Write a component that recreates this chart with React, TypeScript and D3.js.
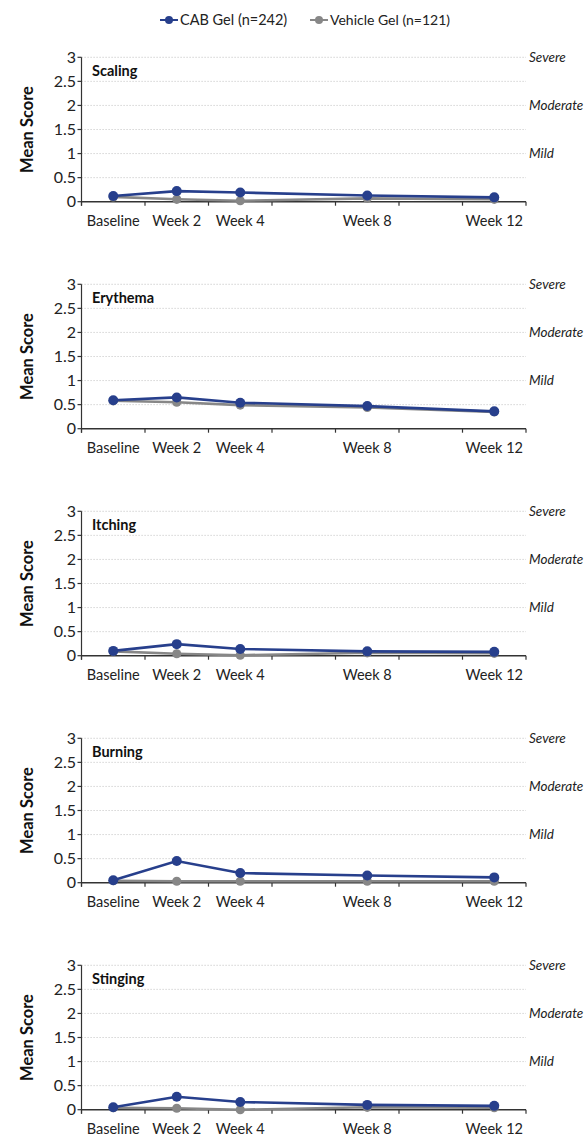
import * as d3 from "d3";

// x slots: one band per 2 weeks, only some are labelled
const slots = ["Baseline", "Week 2", "Week 4", "Week 6", "Week 8", "Week 10", "Week 12"];
const slotLabels = ["Baseline", "Week 2", "Week 4", "", "Week 8", "", "Week 12"];
const visits = ["Baseline", "Week 2", "Week 4", "Week 8", "Week 12"];

const panelTitles = ["Scaling", "Erythema", "Itching", "Burning", "Stinging"];

const cabScaling = [0.12, 0.22, 0.19, 0.13, 0.09];
const vehScaling = [0.1, 0.05, 0.02, 0.07, 0.05];
const cabErythema = [0.59, 0.65, 0.54, 0.47, 0.36];
const vehErythema = [0.58, 0.55, 0.49, 0.44, 0.35];
const cabItching = [0.1, 0.24, 0.14, 0.09, 0.08];
const vehItching = [0.09, 0.04, 0.01, 0.06, 0.05];
const cabBurning = [0.05, 0.45, 0.2, 0.15, 0.11];
const vehBurning = [0.04, 0.03, 0.03, 0.03, 0.03];
const cabStinging = [0.05, 0.27, 0.16, 0.1, 0.08];
const vehStinging = [0.04, 0.03, 0.0, 0.05, 0.04];

const cabSeries = [cabScaling, cabErythema, cabItching, cabBurning, cabStinging];
const vehSeries = [vehScaling, vehErythema, vehItching, vehBurning, vehStinging];

const yTicks = [0, 0.5, 1, 1.5, 2, 2.5, 3];
const severityValues = [3, 2, 1];
const severityNames = ["Severe", "Moderate", "Mild"];

const CAB = "#273f8c";
const VEH = "#878787";
const FONT = "Lato, 'Noto Sans', sans-serif";

const W = 586;
const H = 1136;
const left = 81.5;
const right = 526;
const firstTop = 57.3;
const pitch = 227;
const plotH = 144.4;

function Panel({ idx }: { idx: number }) {
  const top = firstTop + idx * pitch;
  const x = d3.scaleBand<string>().domain(slots).range([left, right]);
  const y = d3.scaleLinear().domain([0, 3]).range([top + plotH, top]);
  const cx = (v: string) => (x(v) ?? 0) + x.bandwidth() / 2;
  const line = d3
    .line<number>()
    .x((_, i) => cx(visits[i]))
    .y((d) => y(d));
  const y0 = y(0);
  const ticksX = slots.map((s) => x(s) ?? 0).concat([right]);

  const series = [
    { data: vehSeries[idx], color: VEH, r: 4.6 },
    { data: cabSeries[idx], color: CAB, r: 5 },
  ];

  return (
    <g>
      {yTicks
        .filter((t) => t > 0)
        .map((t) => (
          <line
            key={t}
            x1={left}
            x2={right}
            y1={y(t)}
            y2={y(t)}
            stroke="#c4c4c4"
            strokeWidth={0.9}
            strokeDasharray="1.2,1.8"
          />
        ))}
      {severityValues.map((v, i) => (
        <text
          key={v}
          x={529}
          y={y(v)}
          dy="0.35em"
          fontStyle="italic"
          fontSize={13.5}
          fill="#222"
        >
          {severityNames[i]}
        </text>
      ))}
      {/* y axis */}
      <line x1={left} x2={left} y1={top} y2={y0 + 4} stroke="#333" strokeWidth={1.2} />
      {yTicks.map((t) => (
        <g key={t}>
          <line x1={left - 4} x2={left} y1={y(t)} y2={y(t)} stroke="#333" strokeWidth={1.2} />
          <text x={76} y={y(t)} dy="0.36em" textAnchor="end" fontSize={16} fill="#222">
            {t}
          </text>
        </g>
      ))}
      {/* x axis */}
      <line x1={left} x2={right} y1={y0} y2={y0} stroke="#333" strokeWidth={1.4} />
      {ticksX.map((tx, i) => (
        <line key={i} x1={tx} x2={tx} y1={y0} y2={y0 + 4} stroke="#333" strokeWidth={1.2} />
      ))}
      {slots.map((s, i) => (
        <text
          key={s}
          x={cx(s)}
          y={y0 + 24}
          textAnchor="middle"
          fontSize={14.5}
          fill="#222"
        >
          {slotLabels[i]}
        </text>
      ))}
      <text
        transform={`translate(33,${top + plotH / 2}) rotate(-90)`}
        textAnchor="middle"
        fontWeight="bold"
        fontSize={16.5}
        fill="#111"
      >
        Mean Score
      </text>
      <text x={92} y={top + 19} fontWeight="bold" fontSize={14.5} fill="#111">
        {panelTitles[idx]}
      </text>
      {series.map((s, k) => (
        <g key={k}>
          <path d={line(s.data) ?? ""} fill="none" stroke={s.color} strokeWidth={2.6} />
          {s.data.map((d, i) => (
            <circle key={i} cx={cx(visits[i])} cy={y(d)} r={s.r} fill={s.color} />
          ))}
        </g>
      ))}
    </g>
  );
}

export default function App() {
  return (
    <svg
      width={W}
      height={H}
      style={{ position: "absolute", left: 0, top: 0, background: "#fff" }}
      fontFamily={FONT}
    >
      <g>
        <line x1={160} x2={178} y1={20} y2={20} stroke={CAB} strokeWidth={2} />
        <circle cx={169} cy={20} r={4} fill={CAB} />
        <text x={180} y={20} dy="0.35em" fontSize={14.5} fill="#222">
          CAB Gel (n=242)
        </text>
        <line x1={310} x2={328} y1={20} y2={20} stroke={VEH} strokeWidth={2} />
        <circle cx={319} cy={20} r={4} fill={VEH} />
        <text x={330} y={20} dy="0.35em" fontSize={14} fill="#222">
          Vehicle Gel (n=121)
        </text>
      </g>
      {panelTitles.map((_, i) => (
        <Panel key={i} idx={i} />
      ))}
    </svg>
  );
}
